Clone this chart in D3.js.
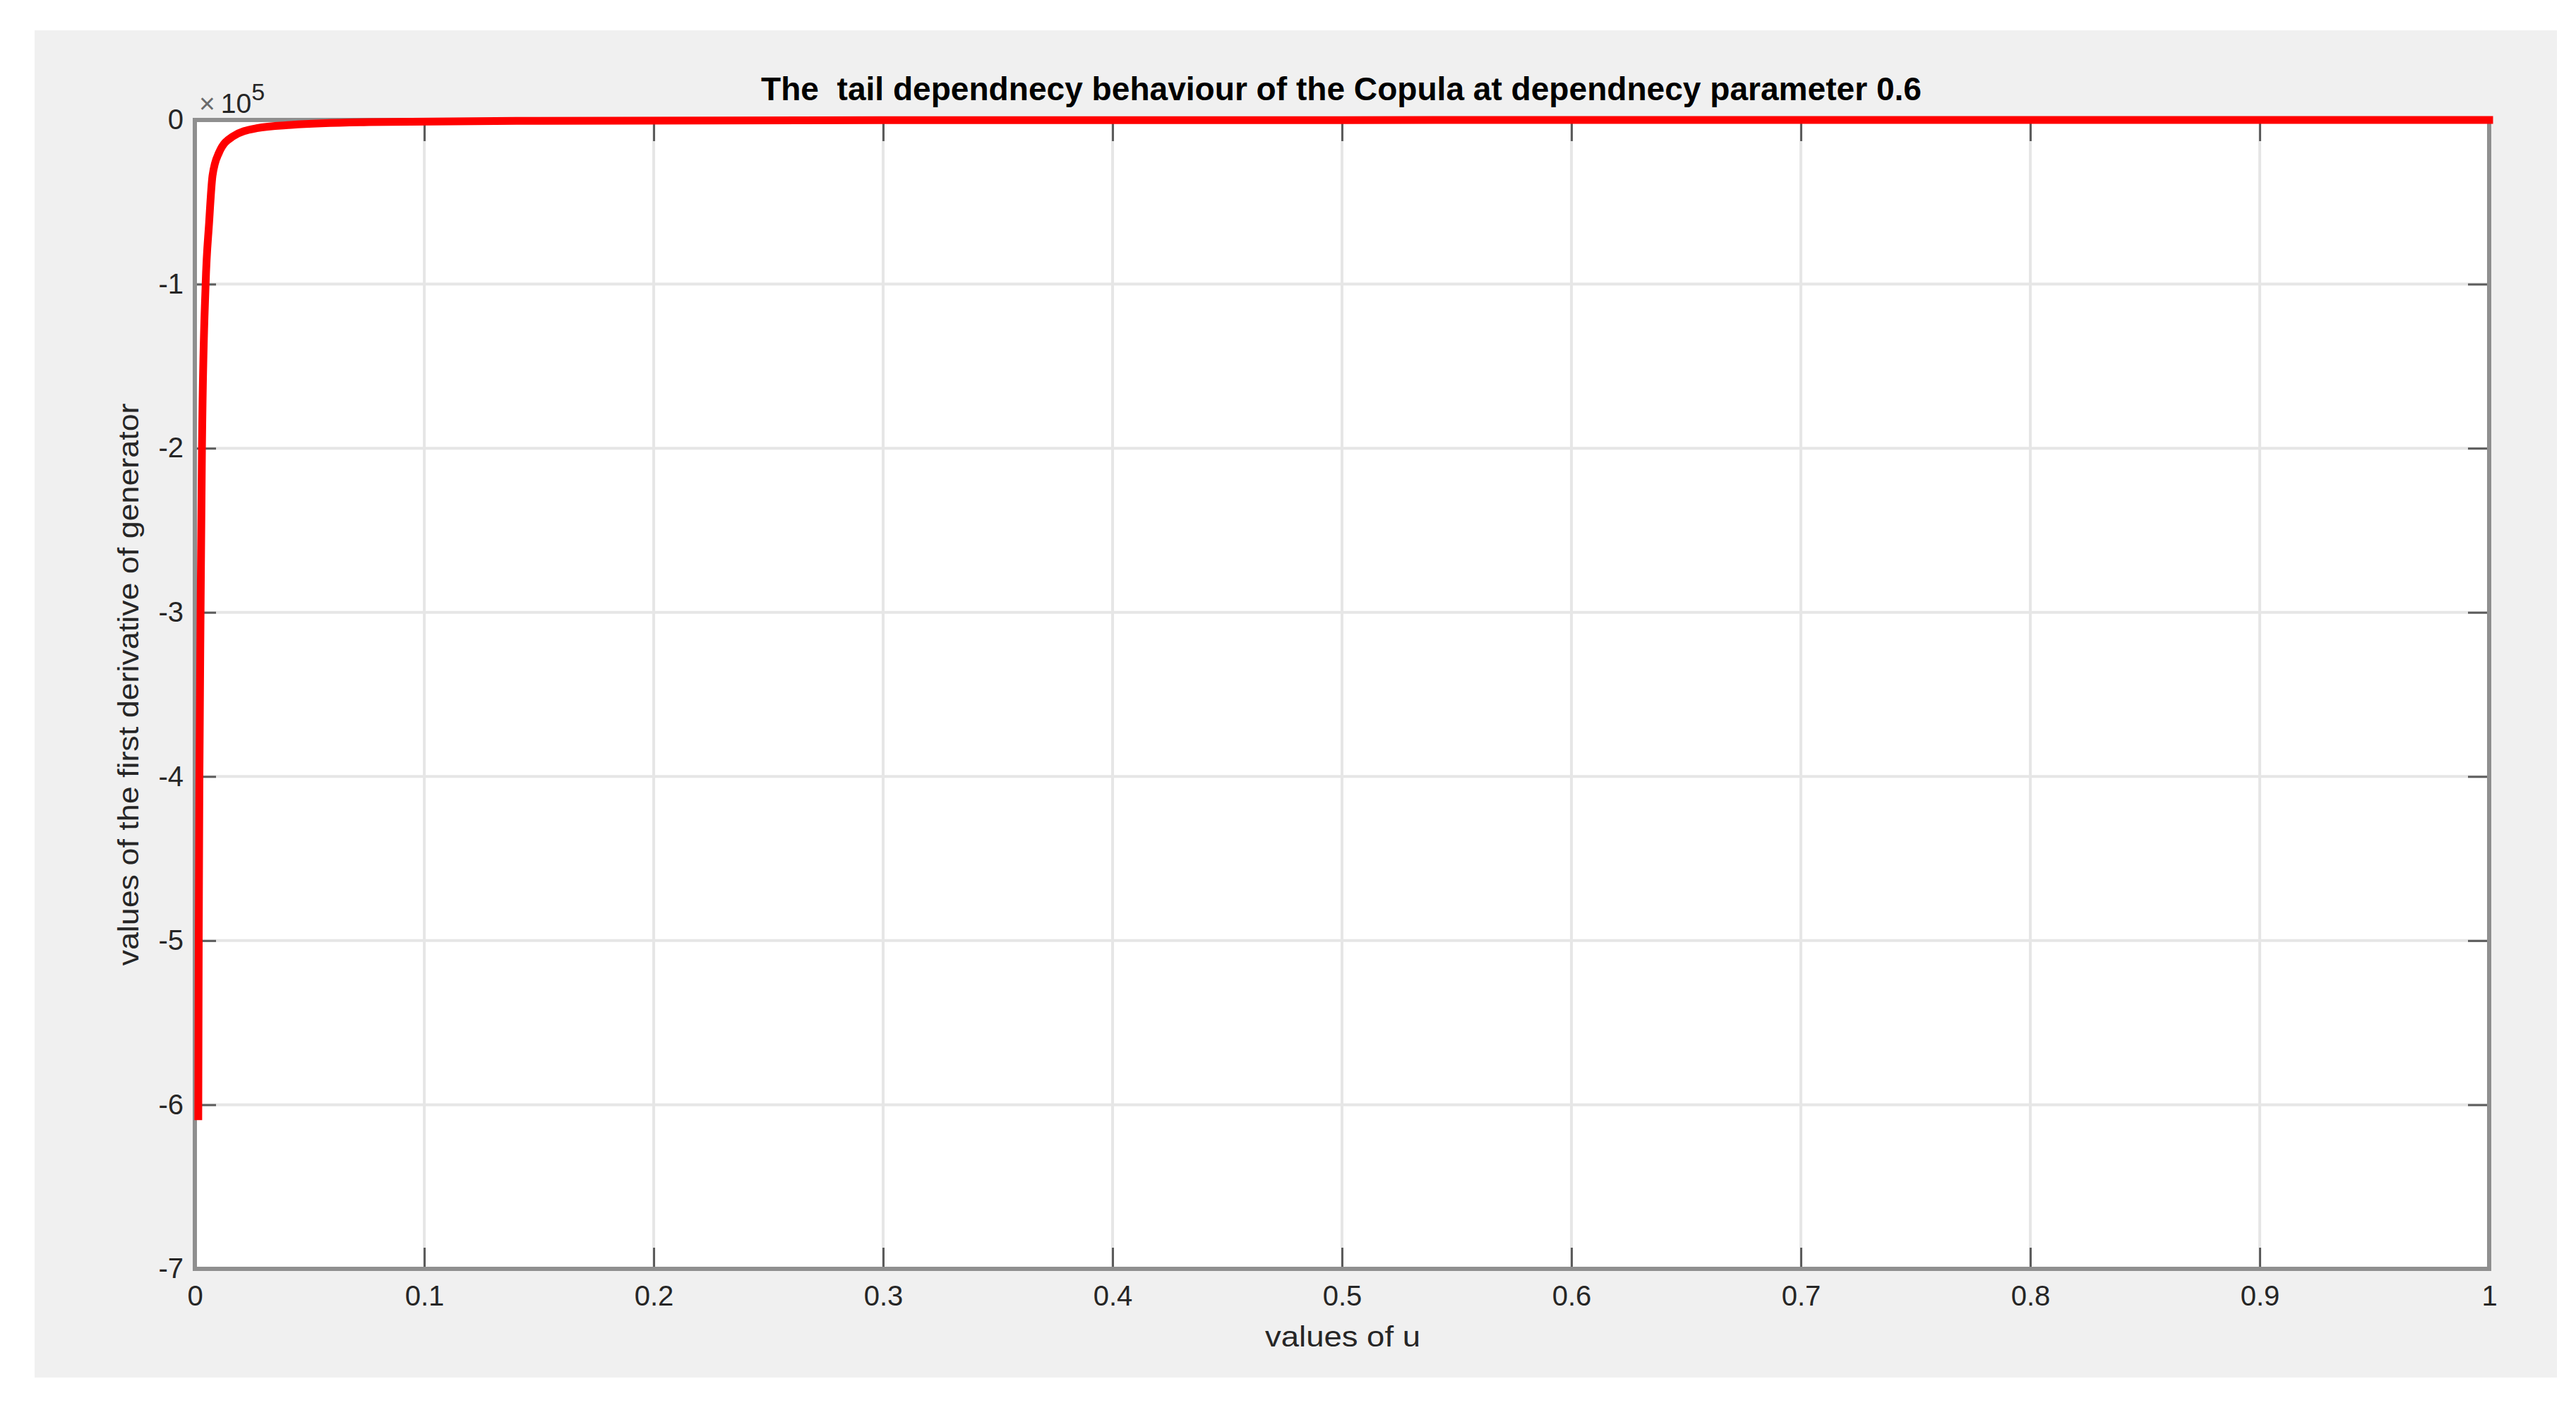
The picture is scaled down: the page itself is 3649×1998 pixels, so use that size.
<!DOCTYPE html>
<html>
<head>
<meta charset="utf-8">
<script src="https://cdn.jsdelivr.net/npm/d3@7"></script>
<style>
  body { margin: 0; background: #ffffff; }
  text { font-family: "Liberation Sans", Arial, Helvetica, sans-serif; }
</style>
</head>
<body>
<script>

// values (u, first derivative of generator)
var uValues = [0.0015, 0.0017, 0.0020, 0.0025, 0.0031, 0.0047, 0.0062, 0.0077, 0.0105,
               0.0166, 0.027, 0.042, 0.076, 0.15, 0.3, 0.5, 0.7, 1.0];
var derivValues = [-607000, -500000, -400000, -300000, -200000, -100000, -63000, -34000, -20000,
                   -10000, -5000, -3000, -1300, -500, -150, -60, -30, -10];

var xTicks = [0, 0.1, 0.2, 0.3, 0.4, 0.5, 0.6, 0.7, 0.8, 0.9, 1];
var yTicks = [-700000, -600000, -500000, -400000, -300000, -200000, -100000, 0];

var titleText = "The  tail dependnecy behaviour of the Copula at dependnecy parameter 0.6";
var xLabel = "values of u";
var yLabel = "values of the first derivative of generator";

var width = 3649;
var height = 1998;

var svg = d3.select("body").append("svg")
    .attr("width", width)
    .attr("height", height);

// figure background
svg.append("rect")
    .attr("x", 49).attr("y", 43)
    .attr("width", 3622 - 49).attr("height", 1952 - 43)
    .attr("fill", "#f0f0f0");

var plotLeft = 276, plotRight = 3526, plotTop = 170, plotBottom = 1798;

var x = d3.scaleLinear().domain([0, 1]).range([plotLeft, plotRight]);
var y = d3.scaleLinear().domain([-700000, 0]).range([plotBottom, plotTop]);

svg.append("rect")
    .attr("x", plotLeft).attr("y", plotTop)
    .attr("width", plotRight - plotLeft).attr("height", plotBottom - plotTop)
    .attr("fill", "#ffffff");

// grid
var grid = svg.append("g").attr("class", "grid");
grid.selectAll("line.gx")
    .data(xTicks)
    .enter().append("line")
    .attr("x1", function(d) { return x(d); })
    .attr("x2", function(d) { return x(d); })
    .attr("y1", plotTop).attr("y2", plotBottom)
    .attr("stroke", "#e6e6e6").attr("stroke-width", 4);
grid.selectAll("line.gy")
    .data(yTicks)
    .enter().append("line")
    .attr("y1", function(d) { return y(d); })
    .attr("y2", function(d) { return y(d); })
    .attr("x1", plotLeft).attr("x2", plotRight)
    .attr("stroke", "#e6e6e6").attr("stroke-width", 4);

function styleAxis(g) {
  g.select(".domain").remove();
  g.selectAll(".tick line").attr("stroke", "#5c5c5c").attr("stroke-width", 3);
  g.selectAll(".tick text")
      .attr("fill", "#262626")
      .style("font-size", "40px")
      .style("font-family", "'Liberation Sans', Arial, sans-serif");
}

svg.append("g")
    .attr("transform", "translate(0," + plotBottom + ")")
    .call(d3.axisBottom(x).tickValues(xTicks).tickSize(-30).tickPadding(24)
        .tickFormat(function(d) { return String(d); }))
    .call(styleAxis);

svg.append("g")
    .attr("transform", "translate(" + plotLeft + ",0)")
    .call(d3.axisLeft(y).tickValues(yTicks).tickSize(-30).tickPadding(16)
        .tickFormat(function(d) { return String(d / 100000); }))
    .call(styleAxis);

svg.append("g")
    .attr("transform", "translate(0," + plotTop + ")")
    .call(d3.axisTop(x).tickValues(xTicks).tickSize(-30).tickFormat(""))
    .call(styleAxis);

svg.append("g")
    .attr("transform", "translate(" + plotRight + ",0)")
    .call(d3.axisRight(y).tickValues(yTicks).tickSize(-30).tickFormat(""))
    .call(styleAxis);

// axes box
svg.append("rect")
    .attr("x", plotLeft).attr("y", plotTop)
    .attr("width", plotRight - plotLeft).attr("height", plotBottom - plotTop)
    .attr("fill", "none")
    .attr("stroke", "#8f8f8f")
    .attr("stroke-width", 6);

// the curve
var line = d3.line()
    .x(function(d, i) { return x(uValues[i]); })
    .y(function(d) { return y(d); })
    .curve(d3.curveMonotoneX);

svg.append("path")
    .datum(derivValues)
    .attr("d", line)
    .attr("fill", "none")
    .attr("stroke", "#ff0000")
    .attr("stroke-width", 11)
    .attr("stroke-linecap", "square")
    .attr("stroke-linejoin", "round");

// exponent label
var expo = svg.append("text")
    .attr("x", 282).attr("y", 160)
    .attr("fill", "#262626")
    .style("font-size", "39px");
expo.append("tspan").attr("fill", "#6a6a6a").text("\u00d7");
expo.append("tspan").attr("dx", 8).text("10");
expo.append("tspan").attr("dy", -18).style("font-size", "34px").text("5");

// title
svg.append("text")
    .attr("x", 1900).attr("y", 142)
    .attr("text-anchor", "middle")
    .attr("textLength", 1644)
    .attr("lengthAdjust", "spacingAndGlyphs")
    .style("font-size", "46px")
    .style("font-weight", "bold")
    .attr("fill", "#000000")
    .style("white-space", "pre")
    .text(titleText);

// axis labels
svg.append("text")
    .attr("x", 1902).attr("y", 1908)
    .attr("text-anchor", "middle")
    .attr("textLength", 220)
    .attr("lengthAdjust", "spacingAndGlyphs")
    .style("font-size", "40px")
    .attr("fill", "#262626")
    .text(xLabel);

svg.append("text")
    .attr("transform", "translate(196,970) rotate(-90)")
    .attr("text-anchor", "middle")
    .attr("textLength", 797)
    .attr("lengthAdjust", "spacingAndGlyphs")
    .style("font-size", "40px")
    .attr("fill", "#262626")
    .text(yLabel);

</script>
</body>
</html>
